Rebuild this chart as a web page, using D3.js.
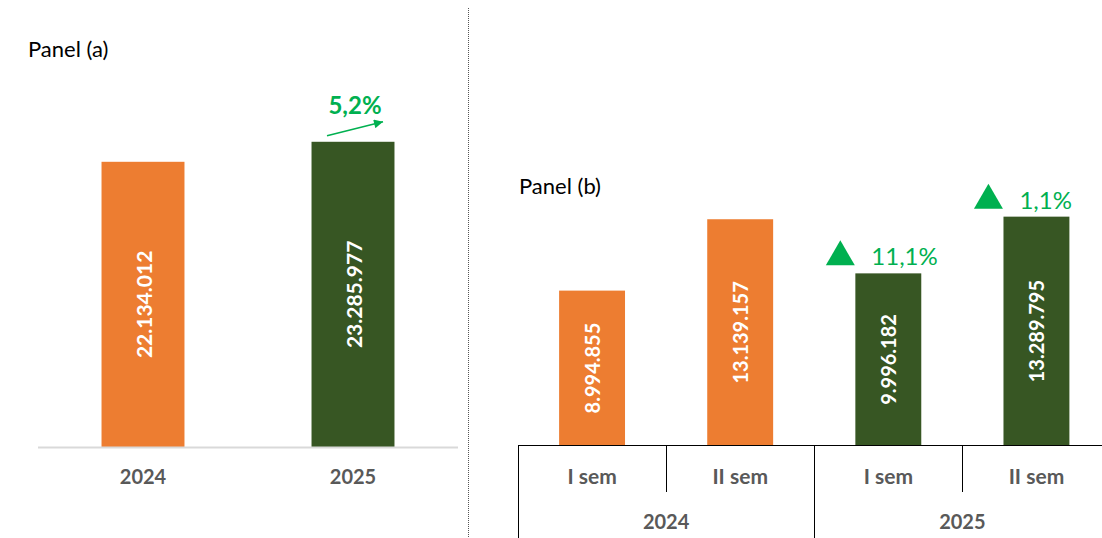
<!DOCTYPE html>
<html>
<head>
<meta charset="utf-8">
<script src="https://cdn.jsdelivr.net/npm/d3@7"></script>
<style>
  body { margin: 0; background: #fff; }
  svg { display: block; font-family: Lato, "Open Sans", sans-serif; }
</style>
</head>
<body>
<svg id="chart" width="1102" height="538"></svg>
<script>
// panel (a): yearly totals
var yearsA = ["2024", "2025"];
var valuesA = [22134012, 23285977];
var growthA = "5,2%";

// panel (b): semesters
var yearsB = ["2024", "2025"];
var semesters = ["I sem", "II sem"];
var valuesB = [8994855, 13139157, 9996182, 13289795];
var growthB = [null, null, "11,1%", "1,1%"];

var orange = "#ED7D31", darkGreen = "#375623", brightGreen = "#00B050", axisText = "#595959";

var fmt = function(v) { return d3.format(",")(v).replace(/,/g, "."); };

var svg = d3.select("#chart");

// divider
svg.append("line")
    .attr("x1", 468.5).attr("x2", 468.5)
    .attr("y1", 8).attr("y2", 538)
    .attr("stroke", "#555").attr("stroke-width", 1)
    .attr("stroke-dasharray", "1,1");

// ---------- panel (a)
var baseA = 447;
var xA = d3.scaleBand().domain(yearsA).range([38, 458]).padding(0);
var yA = d3.scaleLinear().domain([5720000, 25000000]).range([baseA, 112]);
var bwA = xA.bandwidth() * 0.395;

svg.append("text")
    .attr("x", 28).attr("y", 57)
    .attr("font-size", 22).attr("fill", "#000")
    .text("Panel (a)");

var gA = svg.append("g");
var dataA = yearsA.map(function(y, i) { return {year: y, value: valuesA[i], i: i}; });

gA.selectAll("rect").data(dataA).enter().append("rect")
    .attr("x", function(d) { return xA(d.year) + xA.bandwidth() / 2 - bwA / 2; })
    .attr("width", bwA)
    .attr("y", function(d) { return yA(d.value); })
    .attr("height", function(d) { return baseA - yA(d.value); })
    .attr("fill", function(d) { return d.i == 0 ? orange : darkGreen; });

gA.selectAll("text.val").data(dataA).enter().append("text")
    .attr("class", "val")
    .attr("transform", function(d) {
        var cx = xA(d.year) + xA.bandwidth() / 2;
        var cy = (yA(d.value) + baseA) / 2;
        return "translate(" + cx + "," + cy + ") rotate(-90)";
    })
    .attr("text-anchor", "middle").attr("dominant-baseline", "central")
    .attr("font-size", 21).attr("font-weight", "bold").attr("fill", "#fff")
    .text(function(d) { return fmt(d.value); });

gA.append("line")
    .attr("x1", 38).attr("x2", 458)
    .attr("y1", baseA + 0.5).attr("y2", baseA + 0.5)
    .attr("stroke", "#d9d9d9").attr("stroke-width", 2);

gA.selectAll("text.cat").data(yearsA).enter().append("text")
    .attr("class", "cat")
    .attr("x", function(d) { return xA(d) + xA.bandwidth() / 2; })
    .attr("y", 484)
    .attr("text-anchor", "middle")
    .attr("font-size", 20).attr("font-weight", "bold").attr("fill", axisText)
    .text(function(d) { return d; });

// growth arrow for 2025
var cx25 = xA("2025") + xA.bandwidth() / 2;
var top25 = yA(valuesA[1]);
svg.append("defs").append("marker")
    .attr("id", "head").attr("viewBox", "0 0 10 10")
    .attr("refX", 10).attr("refY", 5)
    .attr("markerWidth", 11).attr("markerHeight", 9)
    .attr("markerUnits", "userSpaceOnUse")
    .attr("orient", "auto")
    .append("path").attr("d", "M0,0 L10,5 L0,10 Z").attr("fill", brightGreen);
svg.append("line")
    .attr("x1", cx25 - 26).attr("y1", top25 - 6)
    .attr("x2", cx25 + 30).attr("y2", top25 - 20)
    .attr("stroke", brightGreen).attr("stroke-width", 1.5)
    .attr("marker-end", "url(#head)");
svg.append("text")
    .attr("x", cx25 + 2).attr("y", top25 - 28)
    .attr("text-anchor", "middle")
    .attr("font-size", 24).attr("font-weight", "bold").attr("fill", brightGreen)
    .text(growthA);

// ---------- panel (b)
var baseB = 445.5;
var xYear = d3.scaleBand().domain(yearsB).range([518, 1110.5]).padding(0);
var xSem = d3.scaleBand().domain(semesters).range([0, xYear.bandwidth()]).padding(0);
var yB = d3.scaleLinear().domain([0, 15000000]).range([baseB, baseB - 258.3]);
var bwB = xSem.bandwidth() * 0.445;

svg.append("text")
    .attr("x", 519).attr("y", 194)
    .attr("font-size", 22).attr("fill", "#000")
    .text("Panel (b)");

var dataB = [];
yearsB.forEach(function(y, i) {
    semesters.forEach(function(s, j) {
        var k = i * semesters.length + j;
        dataB.push({year: y, sem: s, value: valuesB[k], growth: growthB[k], i: i});
    });
});
dataB.forEach(function(d) { d.cx = xYear(d.year) + xSem(d.sem) + xSem.bandwidth() / 2; });

var gB = svg.append("g");
gB.selectAll("rect").data(dataB).enter().append("rect")
    .attr("x", function(d) { return d.cx - bwB / 2; })
    .attr("width", bwB)
    .attr("y", function(d) { return yB(d.value); })
    .attr("height", function(d) { return baseB - yB(d.value); })
    .attr("fill", function(d) { return d.i == 0 ? orange : darkGreen; });

gB.selectAll("text.val").data(dataB).enter().append("text")
    .attr("class", "val")
    .attr("transform", function(d) {
        return "translate(" + d.cx + "," + (yB(d.value) + baseB) / 2 + ") rotate(-90)";
    })
    .attr("text-anchor", "middle").attr("dominant-baseline", "central")
    .attr("font-size", 20).attr("font-weight", "bold").attr("fill", "#fff")
    .text(function(d) { return fmt(d.value); });

// growth markers
var gr = dataB.filter(function(d) { return d.growth; });
gB.selectAll("path.tri").data(gr).enter().append("path")
    .attr("class", "tri")
    .attr("d", function(d) {
        var x = d.cx - 48, b = yB(d.value) - 8;
        return "M" + (x - 14.5) + "," + b + "L" + (x + 14.5) + "," + b + "L" + x + "," + (b - 25) + "Z";
    })
    .attr("fill", brightGreen);
gB.selectAll("text.gr").data(gr).enter().append("text")
    .attr("class", "gr")
    .attr("x", function(d) { return d.cx - 17; })
    .attr("y", function(d) { return yB(d.value) - 8; })
    .attr("font-size", 24).attr("fill", brightGreen)
    .text(function(d) { return d.growth; });

// multi-level axis
gB.append("line")
    .attr("x1", 518).attr("x2", 1102)
    .attr("y1", baseB).attr("y2", baseB)
    .attr("stroke", "#000").attr("stroke-width", 1);

yearsB.forEach(function(y) {
    var x0 = Math.round(xYear(y)) + 0.5;
    gB.append("line").attr("x1", x0).attr("x2", x0)
        .attr("y1", baseB).attr("y2", 538).attr("stroke", "#000");
    var xm = Math.round(xYear(y) + xSem("II sem")) + 0.5;
    gB.append("line").attr("x1", xm).attr("x2", xm)
        .attr("y1", baseB).attr("y2", 492).attr("stroke", "#000");
});

gB.selectAll("text.sem").data(dataB).enter().append("text")
    .attr("class", "sem")
    .attr("x", function(d) { return d.cx; })
    .attr("y", 484)
    .attr("text-anchor", "middle")
    .attr("font-size", 21).attr("font-weight", "bold").attr("fill", axisText)
    .text(function(d) { return d.sem; });

gB.selectAll("text.yr").data(yearsB).enter().append("text")
    .attr("class", "yr")
    .attr("x", function(d) { return xYear(d) + xYear.bandwidth() / 2; })
    .attr("y", 529)
    .attr("text-anchor", "middle")
    .attr("font-size", 20).attr("font-weight", "bold").attr("fill", axisText)
    .text(function(d) { return d; });
</script>
</body>
</html>
